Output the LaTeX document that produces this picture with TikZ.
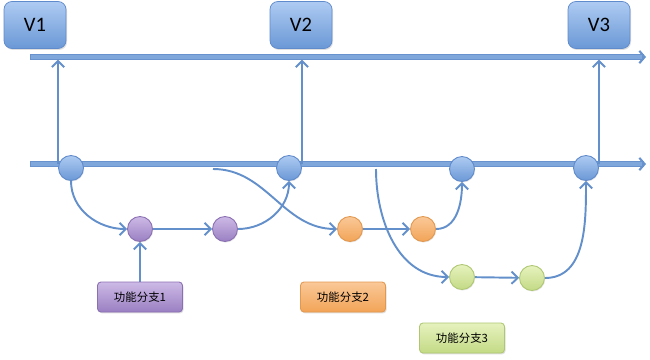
\documentclass[tikz,border=0pt]{standalone}
\usepackage{fontspec}
\setmainfont{Carlito}
\newfontfamily\cjk{Noto Sans CJK SC}
\usetikzlibrary{arrows.meta,backgrounds,shadows}
\usepackage{xcolor}
\definecolor{cbtop}{HTML}{AECBF2}
\definecolor{cbbot}{HTML}{6A98D6}
\definecolor{cbedge}{HTML}{5F8ACB}
\definecolor{cptop}{HTML}{CDBAE6}
\definecolor{cpbot}{HTML}{9A7FC2}
\definecolor{cpedge}{HTML}{8A70B2}
\definecolor{cotop}{HTML}{FAC898}
\definecolor{cobot}{HTML}{F2A457}
\definecolor{coedge}{HTML}{E3984F}
\definecolor{cgtop}{HTML}{E6F2BE}
\definecolor{cgbot}{HTML}{C3DA85}
\definecolor{cgedge}{HTML}{AFC772}
\definecolor{trunkedge}{HTML}{6892CE}
\definecolor{trunkfill}{HTML}{7FA7DC}
\definecolor{connblue}{HTML}{6390CB}

\begin{document}
\begin{tikzpicture}[x=0.02cm,y=-0.02cm,
  verbox/.style={draw=cbedge,rounded corners=4.5pt,top color=cbtop,bottom color=cbbot,
    minimum width=1.24cm,minimum height=.94cm,font=\fontsize{11.7}{14}\selectfont,
    drop shadow={opacity=.25,shadow xshift=.6pt,shadow yshift=-.8pt}},
  commit/.style={circle,minimum size=.5cm,inner sep=0pt,line width=.5pt,draw=#1edge,
    top color=#1top,bottom color=#1bot,
    drop shadow={opacity=.2,shadow xshift=.4pt,shadow yshift=-.6pt}},
  branchbox/.style={rounded corners=2pt,line width=.5pt,draw=#1edge,top color=#1top,bottom color=#1bot,
    minimum width=1.7cm,minimum height=.6cm,font=\cjk\fontsize{6.5}{8}\selectfont,
    drop shadow={opacity=.25,shadow xshift=.6pt,shadow yshift=-.8pt}},
  trunk/.style={draw=trunkedge,line width=3pt,line cap=butt,
    -{Straight Barb[length=3pt,width=7pt,line width=1.2pt]},
    postaction={draw=trunkfill,line width=2pt,-,shorten >=2.5pt,shorten <=.4pt}},
  conn/.style={draw=connblue,line width=1.1pt,
    -{Straight Barb[length=3.5pt,width=7pt,line width=1.1pt]}}]
\useasboundingbox (0,0) rectangle (650,359);
% versions
\node[verbox] (v1) at (35,25) {V1};
\node[verbox] (v2) at (301,25) {V2};
\node[verbox] (v3) at (599,25) {V3};
% trunk lines and fork points
\coordinate (relS) at (30,57); \coordinate (relE) at (646,57);
\coordinate (devS) at (30,164); \coordinate (devE) at (646,164);
\coordinate (fork2) at (213,169); \coordinate (fork3) at (376,169);
% commits
\node[commit=cb] (d1) at (71,168) {};
\node[commit=cb] (d2) at (289,168) {};
\node[commit=cb] (d3) at (462,169) {};
\node[commit=cb] (d4) at (586,168) {};
\node[commit=cp] (p1) at (140,229) {};
\node[commit=cp] (p2) at (225,229) {};
\node[commit=co] (o1) at (350,229) {};
\node[commit=co] (o2) at (423,229) {};
\node[commit=cg] (g1) at (462,277) {};
\node[commit=cg] (g2) at (532,278) {};
% branch labels
\node[branchbox=cp] (f1) at (140,297) {功能分支1};
\node[branchbox=co] (f2) at (343,297) {功能分支2};
\node[branchbox=cg] (f3) at (462,338) {功能分支3};
\begin{scope}[on background layer]
\draw[trunk] (relS) -- (relE);
\draw[trunk] (devS) -- (devE);
\draw[conn,shorten >=1.5pt] (d1.west |- devS) -- (d1.west |- relS);
\draw[conn,shorten >=1.5pt] (d2.east |- devS) -- (d2.east |- relS);
\draw[conn,shorten >=1.5pt] (d4.east |- devS) -- (d4.east |- relS);
\draw[conn] (d1.south) to[out=-90,in=180] (p1.west);
\draw[conn] (p1) -- (p2);
\draw[conn] (p2.east) to[out=0,in=-90] (d2.south);
\draw[conn] (f1) -- (p1);
\draw[conn] (fork2) to[out=0,in=180] (o1.west);
\draw[conn] (o1) -- (o2);
\draw[conn] (o2.east) to[out=0,in=-90] (d3.south);
\draw[conn] (fork3) to[out=-90,in=180] (g1.west);
\draw[conn] (g1) -- (g2);
\draw[conn] (g2.east) to[out=0,in=-90] (d4.south);
\end{scope}
\end{tikzpicture}
\end{document}
